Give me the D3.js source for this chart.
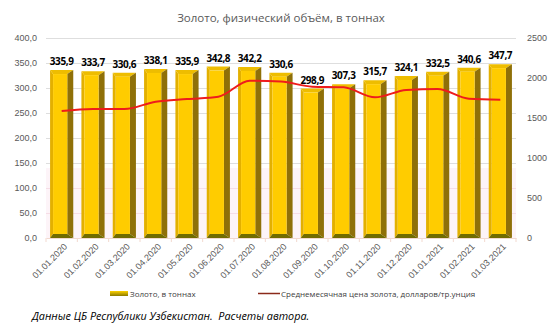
<!DOCTYPE html>
<html>
<head>
<meta charset="utf-8">
<script src="https://cdn.jsdelivr.net/npm/d3@7"></script>
<style>
  html, body { margin: 0; padding: 0; background: #fff; }
  svg { display: block; font-family: "Open Sans", "DejaVu Sans", sans-serif; }
</style>
</head>
<body>
<svg id="chart" width="560" height="329"></svg>
<script>
// Monthly snapshot dates
const dates = ["01.01.2020","01.02.2020","01.03.2020","01.04.2020","01.05.2020","01.06.2020",
  "01.07.2020","01.08.2020","01.09.2020","01.10.2020","01.11.2020","01.12.2020",
  "01.01.2021","01.02.2021","01.03.2021"];
// Physical gold reserves, tonnes
const goldTonnes = [335.9, 333.7, 330.6, 338.1, 335.9, 342.8, 342.2, 330.6, 298.9, 307.3, 315.7, 324.1, 332.5, 340.6, 347.7];
// Average monthly gold price, USD per troy ounce
const goldPrice = [1587, 1614, 1612, 1704, 1737, 1766, 1966, 1955, 1891, 1883, 1758, 1850, 1862, 1741, 1729];
// Axis ticks
const leftTicks = [0, 50, 100, 150, 200, 250, 300, 350, 400];
const rightTicks = [0, 500, 1000, 1500, 2000, 2500];

const svg = d3.select("#chart");
const plot = { left: 46, right: 516, top: 38, bottom: 238 };

const x = d3.scaleBand().domain(dates).range([plot.left, plot.right]).paddingInner(0.26).paddingOuter(0.13);
const yL = d3.scaleLinear().domain([0, 400]).range([plot.bottom, plot.top]);
const yR = d3.scaleLinear().domain([0, 2500]).range([plot.bottom, plot.top]);

// Faint tinted band in the lower part of the plot
svg.append("rect").attr("x", plot.left).attr("y", yL(140)).attr("width", plot.right - plot.left)
  .attr("height", plot.bottom - yL(140)).attr("fill", "#fdf4f8");

// Gridlines
svg.append("g").selectAll("line").data(leftTicks.slice(1)).join("line")
  .attr("x1", plot.left).attr("x2", plot.right)
  .attr("y1", d => yL(d) + 0.5).attr("y2", d => yL(d) + 0.5)
  .attr("stroke", d => d <= 100 ? "#f6dde6" : "#dedede").attr("stroke-width", 1);

// Left axis
const axL = svg.append("g").attr("transform", `translate(${plot.left},0)`)
  .call(d3.axisLeft(yL).tickValues(leftTicks).tickSize(0).tickPadding(9)
    .tickFormat(d => d3.format(".1f")(d).replace(".", ",")));
axL.select(".domain").remove();
axL.selectAll("text").attr("fill", "#595959").style("font-size", "9px");

// Right axis
const axR = svg.append("g").attr("transform", `translate(${plot.right},0)`)
  .call(d3.axisRight(yR).tickValues(rightTicks).tickSize(0).tickPadding(11).tickFormat(d3.format("d")));
axR.select(".domain").remove();
axR.selectAll("text").attr("fill", "#595959").style("font-size", "9px");

// Category axis
const axX = svg.append("g").attr("transform", `translate(0,${plot.bottom})`)
  .call(d3.axisBottom(x).tickSize(0).tickPadding(0));
axX.select(".domain").attr("stroke", "#f2d9cf");
axX.selectAll("text").attr("fill", "#595959").style("font-size", "9px")
  .attr("text-anchor", "end")
  .attr("transform", "translate(4,7) rotate(-45)").attr("dy", "0.35em").attr("y", 0);
// small boundary ticks between categories
svg.append("g").selectAll("line").data(d3.range(dates.length + 1)).join("line")
  .attr("x1", i => plot.left + i * (plot.right - plot.left) / dates.length)
  .attr("x2", i => plot.left + i * (plot.right - plot.left) / dates.length)
  .attr("y1", plot.bottom).attr("y2", plot.bottom + 4).attr("stroke", "#f2d9cf");

// Bevelled gold bars
const bw = x.bandwidth();
const bL = 3, bR = 6, bT = 4, bB = 4;
const bars = svg.append("g").selectAll("g").data(dates.map((d, i) => ({ d, v: goldTonnes[i] }))).join("g");
function pts(a) { return a.map(p => p.join(",")).join(" "); }
bars.each(function(o) {
  const g = d3.select(this);
  const x0 = x(o.d), x1 = x0 + bw, t = yL(o.v), b = yL(0);
  const ix0 = x0 + bL, ix1 = x1 - bR, it = t + bT, ib = b - bB;
  g.append("polygon").attr("points", pts([[x0, t], [ix0, it], [ix0, ib], [x0, b]])).attr("fill", "#e3b000");
  g.append("polygon").attr("points", pts([[x0, t], [x1, t], [ix1, it], [ix0, it]])).attr("fill", "#eebd00");
  g.append("polygon").attr("points", pts([[x1, t], [x1, b], [ix1, ib], [ix1, it]])).attr("fill", "#8f7008");
  g.append("polygon").attr("points", pts([[x0, b], [x1, b], [ix1, ib], [ix0, ib]])).attr("fill", "#716c00");
  g.append("rect").attr("x", ix0).attr("y", it).attr("width", ix1 - ix0).attr("height", ib - it).attr("fill", "#ffcc00");
});

// Value labels
svg.append("g").selectAll("text").data(dates.map((d, i) => ({ d, v: goldTonnes[i] }))).join("text")
  .attr("x", o => x(o.d) + bw / 2).attr("y", o => yL(o.v) - 5)
  .attr("text-anchor", "middle").attr("fill", "#000").style("font-size", "10px").style("font-weight", "bold")
  .style("letter-spacing", "-0.4px")
  .text(o => d3.format(".1f")(o.v).replace(".", ","));

// Price line
const line = d3.line().x((v, i) => x(dates[i]) + bw / 2).y(v => yR(v)).curve(d3.curveMonotoneX);
svg.append("path").datum(goldPrice).attr("d", line).attr("fill", "none")
  .attr("stroke", "#ee1c1c").attr("stroke-width", 2);

// Title
svg.append("text").attr("x", 281).attr("y", 22).attr("text-anchor", "middle")
  .attr("fill", "#595959").style("font-size", "11.5px").text("Золото, физический объём, в тоннах");

// Legend
const lg = svg.append("g");
const grad = svg.append("defs").append("linearGradient").attr("id", "lgGold").attr("x1", 0).attr("y1", 0).attr("x2", 0).attr("y2", 1);
grad.append("stop").attr("offset", "0%").attr("stop-color", "#ffd200");
grad.append("stop").attr("offset", "100%").attr("stop-color", "#8a7a00");
lg.append("rect").attr("x", 110).attr("y", 291).attr("width", 18).attr("height", 5).attr("fill", "url(#lgGold)");
lg.append("text").attr("x", 130).attr("y", 296.5).attr("fill", "#404040").style("font-size", "8px").text("Золото, в тоннах");
lg.append("line").attr("x1", 258).attr("x2", 280).attr("y1", 293.5).attr("y2", 293.5).attr("stroke", "#8b2a1a").attr("stroke-width", 1.5);
lg.append("text").attr("x", 281).attr("y", 296.5).attr("fill", "#404040").style("font-size", "8px")
  .text("Среднемесячная цена золота, долларов/тр.унция");

// Source note
svg.append("text").attr("x", 32).attr("y", 320).attr("fill", "#000").style("font-size", "10.8px").style("font-style", "italic")
  .attr("xml:space", "preserve").text("Данные ЦБ Республики Узбекистан.  Расчеты автора.");
</script>
</body>
</html>
